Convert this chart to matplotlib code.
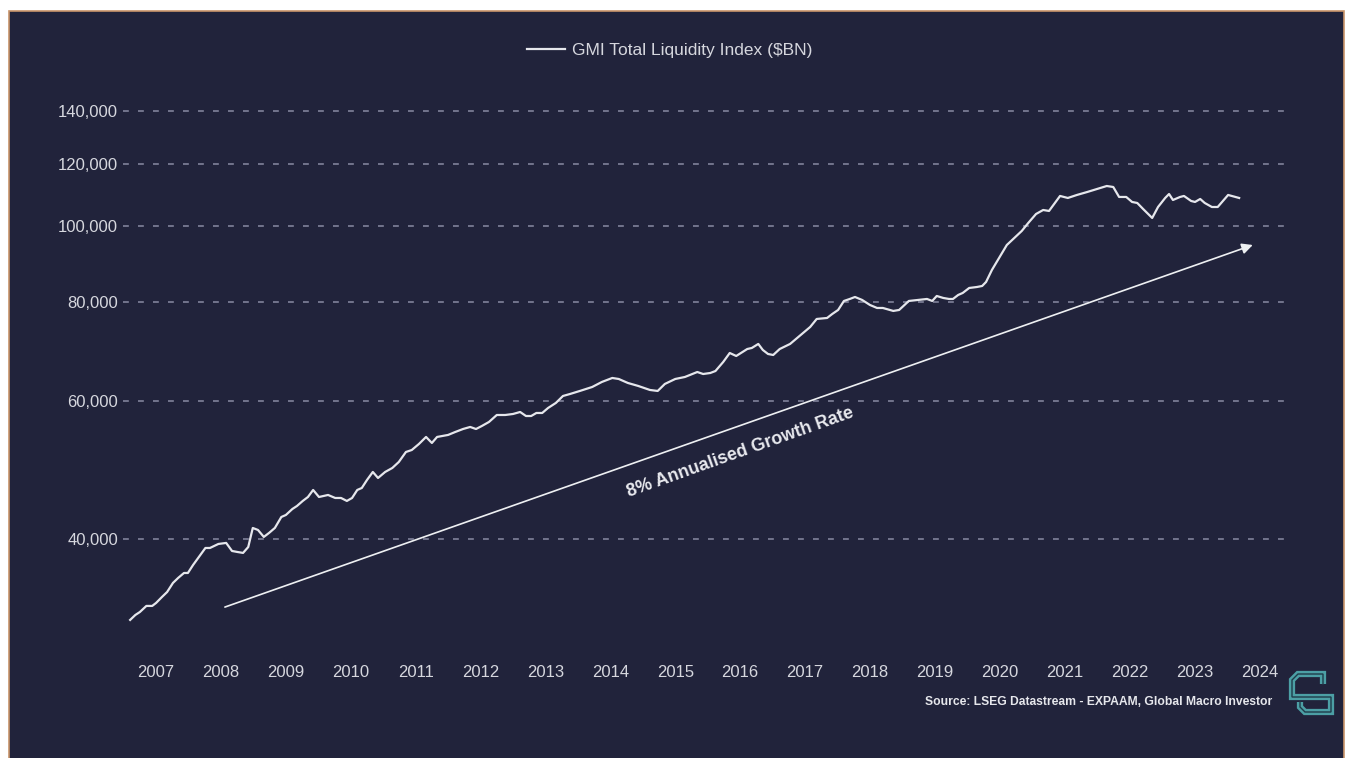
import matplotlib
matplotlib.use('Agg')
import matplotlib.pyplot as plt
from matplotlib.patches import Rectangle
from matplotlib.lines import Line2D
from matplotlib.ticker import NullLocator

plt.rcParams['font.family'] = ['Liberation Sans', 'DejaVu Sans']

# GMI Total Liquidity Index ($BN) (decimal years)
dates = [
    2006.60, 2006.68, 2006.75, 2006.85, 2006.94, 2007.00, 2007.09, 2007.17, 2007.26, 2007.34,
    2007.43, 2007.49, 2007.57, 2007.66, 2007.76, 2007.83, 2007.96, 2008.08, 2008.17, 2008.25,
    2008.34, 2008.42, 2008.49, 2008.57, 2008.66, 2008.74, 2008.83, 2008.93, 2009.00, 2009.10,
    2009.17, 2009.26, 2009.34, 2009.42, 2009.51, 2009.65, 2009.76, 2009.85, 2009.94, 2010.02,
    2010.10, 2010.17, 2010.25, 2010.34, 2010.42, 2010.53, 2010.64, 2010.74, 2010.85, 2010.94,
    2011.05, 2011.16, 2011.25, 2011.33, 2011.50, 2011.61, 2011.73, 2011.84, 2011.93, 2012.02,
    2012.13, 2012.25, 2012.38, 2012.50, 2012.61, 2012.70, 2012.78, 2012.86, 2012.95, 2013.04,
    2013.16, 2013.27, 2013.38, 2013.53, 2013.72, 2013.87, 2014.03, 2014.13, 2014.27, 2014.43,
    2014.61, 2014.73, 2014.84, 2015.00, 2015.15, 2015.34, 2015.43, 2015.54, 2015.62, 2015.74,
    2015.84, 2015.94, 2016.11, 2016.18, 2016.28, 2016.35, 2016.43, 2016.51, 2016.61, 2016.77,
    2016.88, 2016.97, 2017.08, 2017.18, 2017.34, 2017.42, 2017.51, 2017.60, 2017.69, 2017.77,
    2017.88, 2018.00, 2018.11, 2018.20, 2018.36, 2018.45, 2018.60, 2018.74, 2018.88, 2018.96,
    2019.03, 2019.13, 2019.22, 2019.28, 2019.36, 2019.43, 2019.53, 2019.65, 2019.73, 2019.79,
    2019.88, 2020.00, 2020.11, 2020.24, 2020.34, 2020.44, 2020.56, 2020.67, 2020.76, 2020.84,
    2020.93, 2021.05, 2021.19, 2021.35, 2021.50, 2021.65, 2021.75, 2021.84, 2021.95, 2022.04,
    2022.12, 2022.21, 2022.35, 2022.44, 2022.55, 2022.61, 2022.67, 2022.78, 2022.84, 2022.95,
    2023.01, 2023.09, 2023.16, 2023.27, 2023.36, 2023.44, 2023.52, 2023.69,
]
liquidity = [
    31580, 32040, 32320, 32900, 32900, 33190, 33770, 34270, 35190, 35710,
    36230, 36230, 37090, 37970, 38980, 38980, 39440, 39560, 38640, 38530,
    38420, 39090, 41330, 41090, 40260, 40730, 41330, 42680, 42930, 43690,
    44070, 44730, 45250, 46190, 45250, 45520, 45120, 45120, 44730, 45120,
    46190, 46460, 47560, 48690, 47840, 48690, 49260, 50130, 51620, 51920,
    52840, 53940, 53000, 53940, 54260, 54730, 55210, 55540, 55210, 55700,
    56360, 57520, 57520, 57690, 58030, 57350, 57350, 57860, 57860, 58710,
    59580, 60810, 61170, 61710, 62430, 63360, 64100, 63910, 63170, 62620,
    61890, 61710, 62990, 63910, 64290, 65230, 64850, 65040, 65420, 67180,
    68960, 68360, 69770, 69980, 70810, 69570, 68760, 68560, 69770, 70810,
    72060, 73120, 74420, 76180, 76400, 77300, 78210, 80300, 80770, 81240,
    80540, 79370, 78670, 78670, 77990, 78210, 80300, 80540, 80770, 80300,
    81480, 81010, 80770, 80770, 81720, 82200, 83410, 83650, 83900, 84890,
    87920, 91330, 94590, 96830, 98550, 100880, 103570, 104790, 104490, 106650,
    109180, 108540, 109500, 110460, 111440, 112410, 112080, 108860, 108860, 107280,
    106960, 105100, 102370, 105710, 108540, 109810, 107900, 108860, 109180, 107590,
    107280, 108220, 106960, 105710, 105710, 107590, 109500, 108540,
]

years = list(range(2007, 2025))
y_ticks = [40000, 60000, 80000, 100000, 120000, 140000]

trend_start = (2008.06, 32790)
trend_end = (2023.90, 94590)
trend_label = '8% Annualised Growth Rate'
series_label = 'GMI Total Liquidity Index ($BN)'
source_text = 'Source: LSEG Datastream - EXPAAM, Global Macro Investor'

W, H = 1347, 758
bg = '#21233b'
txt = '#d6d7de'
line_col = '#e6e7ec'

fig = plt.figure(figsize=(W / 100, H / 100), dpi=100, facecolor='white')
fig.patches.append(Rectangle((8.5 / W, -0.01), (1344 - 8.5) / W, 1 - 11 / H + 0.01,
                             transform=fig.transFigure, facecolor=bg,
                             edgecolor='#c8946a', linewidth=1.2, zorder=-10))

ax = fig.add_axes([123 / W, 1 - 650 / H, (1293 - 123) / W, (650 - 95) / H])
ax.set_facecolor('none')
ax.set_zorder(2)
ax.set_yscale('log')

ax.plot(dates, liquidity, color=line_col, lw=1.6, label=series_label, zorder=3)

ax.annotate('', xy=trend_end, xytext=trend_start,
            arrowprops=dict(arrowstyle='-|>', color='#eef0f2', lw=1.2,
                            mutation_scale=16, shrinkA=0, shrinkB=0), zorder=3)
ax.text(2016.0, 51600, trend_label, rotation=19.6, ha='center', va='center',
        fontsize=13, fontweight='bold', color='#e8e9ee', rotation_mode='anchor')

ax.set_xlim(2006.49, 2024.52)
ax.set_ylim(28920, 146700)
ax.set_yticks(y_ticks)
ax.set_yticklabels([f'{v:,}' for v in y_ticks])
ax.yaxis.set_minor_locator(NullLocator())
ax.set_xticks(years)
ax.set_xticklabels([str(y) for y in years])
ax.tick_params(axis='both', length=0, labelsize=12, colors=txt)
ax.tick_params(axis='y', pad=3.6)
ax.tick_params(axis='x', pad=10.5)

ax.yaxis.grid(True, color='#80839a', lw=1.2, linestyle=(0, (3.5, 5.5)))
ax.xaxis.grid(False)
for s in ax.spines.values():
    s.set_visible(False)

fig.legend(loc='center', bbox_to_anchor=(0.497, 1 - 50 / H), frameon=False,
           fontsize=12.5, labelcolor=txt, handlelength=2.2, handletextpad=0.4)

fig.text(1272 / W, 1 - 702 / H, source_text, ha='right', va='center',
         fontsize=8.7, fontweight='bold', color='#e6e7ec')

# logo, roughly traced
logo = [(1323, 684), (1323, 674), (1298, 674), (1292, 680), (1292, 697), (1331, 697),
        (1331, 712), (1305, 712), (1300, 707), (1300, 702)]
lx = [p[0] / W for p in logo]
ly = [1 - p[1] / H for p in logo]
fig.add_artist(Line2D(lx, ly, color='#4c9fa5', lw=4.5, solid_joinstyle='miter',
                      solid_capstyle='butt', transform=fig.transFigure))
fig.add_artist(Line2D(lx, ly, color='#1f3b4a', lw=1.0, solid_joinstyle='miter',
                      transform=fig.transFigure))

fig.savefig('out.png', dpi=100, facecolor='white')
